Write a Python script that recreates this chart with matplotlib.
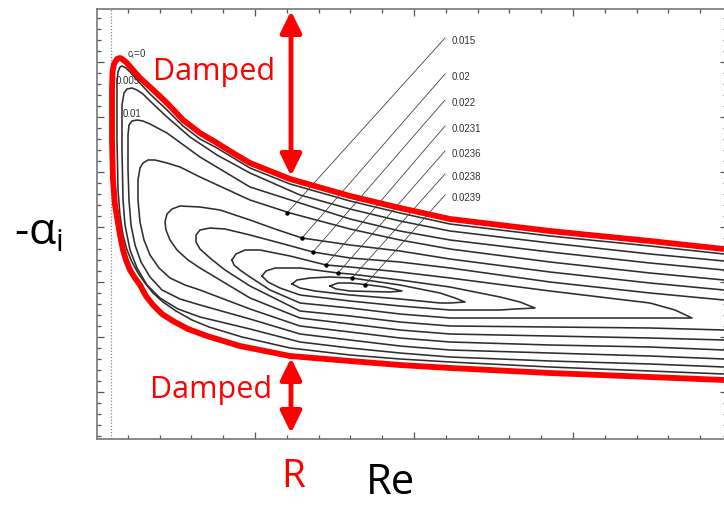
import numpy as np
import matplotlib.pyplot as plt
from matplotlib.ticker import FixedLocator

# x ~ Re, y ~ alpha_i (arbitrary units, y axis inverted so -alpha_i grows upward)
neutral_re = [724, 650, 550, 450, 400, 350, 290, 250, 233, 217, 200, 183, 167, 150, 140, 133, 126, 122, 120,
              117, 114, 112.5, 112, 112, 113, 115, 117, 120, 123, 126, 130, 135, 140, 146, 153, 162, 173, 188,
              207, 240, 290, 350, 400, 450, 550, 650, 724]
neutral_alpha = [249, 241, 231, 219, 208, 196, 179, 163, 153, 143, 133, 120, 103, 87, 78, 70, 62, 59, 58,
                 59, 64, 72, 90, 140, 180, 205, 217, 235, 250, 260, 270, 278, 285, 296, 305, 314, 321, 329,
                 336, 346, 356, 361, 365, 368, 373, 377, 380]

ci0_re = [724, 650, 550, 450, 400, 350, 290, 250, 217, 200, 183, 167, 150, 138, 131, 126, 122, 120, 118, 117,
          117, 118, 120, 123, 127, 132, 138, 145, 153, 163, 176, 192, 209, 242, 290, 350, 400, 450, 550, 650, 724]
ci0_alpha = [254, 246, 236, 224, 213, 201, 184, 168, 148, 139, 126, 110, 94, 81, 73, 68, 66, 67, 72, 82,
             140, 190, 215, 235, 250, 262, 273, 283, 293, 302, 311, 320, 327, 337, 348, 355, 359, 362, 367, 371, 374]

ci005_re = [724, 650, 550, 450, 400, 350, 300, 250, 217, 190, 167, 150, 143, 137, 132, 127, 124, 122, 122, 123,
            125, 130, 137, 147, 160, 178, 200, 250, 300, 350, 400, 450, 550, 650, 724]
ci005_alpha = [261, 254, 243, 231, 221, 209, 195, 173, 155, 137, 117, 101, 94, 90, 88, 89, 93, 105, 150, 200,
               225, 250, 268, 285, 298, 309, 317, 329, 342, 348, 353, 357, 361, 364, 367]

ci01_re = [724, 650, 550, 450, 400, 350, 300, 250, 200, 167, 150, 143, 137, 132, 129, 128, 128, 129, 131, 135,
           141, 150, 162, 180, 200, 250, 300, 350, 400, 450, 550, 650, 724]
ci01_alpha = [270, 263, 252, 240, 231, 219, 203, 187, 157, 133, 124, 121, 120, 121, 125, 135, 170, 200, 225, 245,
              262, 277, 290, 299, 305, 319, 334, 340, 346, 350, 353, 356, 359]

ci015_re = [724, 650, 550, 450, 400, 350, 290, 250, 200, 180, 167, 155, 148, 143, 140, 138, 138, 140, 144, 150,
            159, 170, 185, 200, 250, 300, 350, 400, 450, 550, 650, 724]
ci015_alpha = [280, 273, 262, 249, 240, 229, 213, 200, 177, 167, 163, 160, 160, 163, 168, 180, 200, 222, 240, 255,
               268, 278, 285, 290, 309, 326, 332, 338, 342, 345, 347, 350]

ci02_re = [724, 650, 550, 450, 400, 350, 302, 275, 250, 220, 200, 180, 172, 167, 165, 166, 170, 177, 188, 200,
           250, 300, 350, 400, 450, 550, 650, 724]
ci02_alpha = [290, 283, 272, 259, 251, 245, 238, 229, 220, 210, 207, 206, 209, 214, 222, 230, 240, 250, 260, 268,
              298, 318, 324, 330, 334, 336, 338, 340]

ci022_re = [724, 650, 550, 450, 400, 350, 313, 280, 250, 225, 210, 200, 196, 196, 200, 210, 225, 250, 300, 350,
            400, 450, 550, 650, 724]
ci022_alpha = [300, 293, 282, 268, 262, 258, 252, 243, 235, 229, 228, 230, 235, 242, 249, 258, 270, 286, 311, 316,
               322, 326, 327, 328, 330]

ci0231_re = [232, 236, 245, 260, 290, 326, 350, 400, 450, 550, 650, 675, 692, 670, 650, 550, 450, 400, 350, 300,
             270, 250, 240, 234, 232]
ci0231_alpha = [260, 254, 250, 250, 256, 265, 267, 272, 278, 291, 303, 310, 318, 318, 318, 318, 318, 314, 308, 303,
                290, 277, 270, 265, 260]

ci0236_re = [262, 266, 275, 300, 338, 350, 400, 450, 500, 520, 535, 515, 500, 450, 400, 350, 300, 280, 268, 262]
ci0236_alpha = [276, 271, 268, 268, 273, 274, 280, 287, 297, 302, 308, 309, 310, 310, 306, 301, 295, 288, 282, 276]

ci0238_re = [292, 297, 310, 330, 352, 400, 440, 455, 465, 450, 440, 400, 350, 315, 300, 292]
ci0238_alpha = [284, 280, 278, 277, 278, 285, 293, 298, 302, 303, 303, 299, 295, 291, 288, 284]

ci0239_re = [330, 338, 350, 365, 385, 402, 390, 370, 350, 336, 330]
ci0239_alpha = [286, 283, 283, 284.5, 287, 291, 292, 291.5, 291, 289, 286]

# labelled contours on the right (label row, and the point the leader touches)
lead_labels = ['0.015', '0.02', '0.022', '0.0231', '0.0236', '0.0238', '0.0239']
lead_text_alpha = [41, 77, 103, 129, 154, 177, 198]
lead_end_re = [287, 302, 313, 326, 338, 352, 365]
lead_end_alpha = [213, 238, 252, 265, 273, 278, 285]

W, H = 724, 507
fig = plt.figure(figsize=(W / 100, H / 100), dpi=100)
ax = fig.add_axes([97 / W, (H - 439) / H, (727 - 97) / W, (439 - 9) / H])
ax.set_xlim(97, 727)
ax.set_ylim(439, 9)

contours = [(ci0_re, ci0_alpha), (ci005_re, ci005_alpha), (ci01_re, ci01_alpha), (ci015_re, ci015_alpha),
            (ci02_re, ci02_alpha), (ci022_re, ci022_alpha), (ci0231_re, ci0231_alpha),
            (ci0236_re, ci0236_alpha), (ci0238_re, ci0238_alpha), (ci0239_re, ci0239_alpha)]
for cx, cy in contours:
    ax.plot(cx, cy, color='#2e2e2e', lw=1.15, solid_joinstyle='round', zorder=2)

# leaders to the labels
for lab, ty, ex, ey in zip(lead_labels, lead_text_alpha, lead_end_re, lead_end_alpha):
    ax.plot([445, ex], [ty - 3, ey], color='#444444', lw=0.6, zorder=3)
    ax.plot(ex, ey, 'o', color='black', ms=2.2, zorder=3)
    ax.text(452, ty, lab, fontsize=7, family='Liberation Sans', color='#333333', va='center', ha='left')

ax.text(127, 54, 'c$_\\mathregular{i}$=0', fontsize=7, family='Liberation Sans', color='#333333',
        va='center', ha='left')
ax.text(116, 81, '0.005', fontsize=7, family='Liberation Sans', color='#333333', va='center', ha='left')
ax.text(123, 114, '0.01', fontsize=7, family='Liberation Sans', color='#333333', va='center', ha='left')

# dotted line near the left edge
ax.axvline(111, color='#888888', lw=0.9, ls=(0, (1, 1.5)), zorder=1)

# neutral curve in red
ax.plot(neutral_re, neutral_alpha, color='#ff0000', lw=4.2, solid_joinstyle='round',
        solid_capstyle='butt', zorder=5)

arrow_style = '<|-|>,head_length=0.65,head_width=0.32'
for y0, y1 in [(11, 176), (358, 433)]:
    ax.annotate('', xy=(291, y0), xytext=(291, y1),
                arrowprops=dict(arrowstyle=arrow_style, color='#ff0000', lw=3.5,
                                shrinkA=0, shrinkB=0, mutation_scale=20),
                zorder=6)

ax.text(214, 80, 'Damped', color='#ff0000', fontsize=22, family='Open Sans', ha='center', va='baseline', zorder=7)
ax.text(211, 398, 'Damped', color='#ff0000', fontsize=22, family='Open Sans', ha='center', va='baseline', zorder=7)

# ticks, all pointing inward
ax.xaxis.set_major_locator(FixedLocator(np.arange(96, 740, 159)))
ax.xaxis.set_minor_locator(FixedLocator(np.arange(96, 740, 31.8)))
ax.yaxis.set_major_locator(FixedLocator(np.arange(7, 440, 55)))
ax.yaxis.set_minor_locator(FixedLocator(np.arange(7, 440, 11)))
ax.tick_params(which='both', direction='in', top=True, right=True, labelbottom=False, labelleft=False,
               color='#555555', width=0.9)
ax.tick_params(which='major', length=5)
ax.tick_params(which='minor', length=3)
for s in ax.spines.values():
    s.set_color('#777777')
    s.set_linewidth(1.2)

fig.text(293 / W, 1 - 487 / H, 'R', color='#ff0000', fontsize=28, family='Open Sans', ha='center', va='baseline')
fig.text(390 / W, 1 - 494 / H, 'Re', color='black', fontsize=30, family='Open Sans', ha='center', va='baseline')
fig.text(39 / W, 1 - 245 / H, '-α$_\\mathregular{i}$', color='black', fontsize=32, family='Open Sans',
         ha='center', va='baseline')

fig.savefig('out.png', dpi=100)
